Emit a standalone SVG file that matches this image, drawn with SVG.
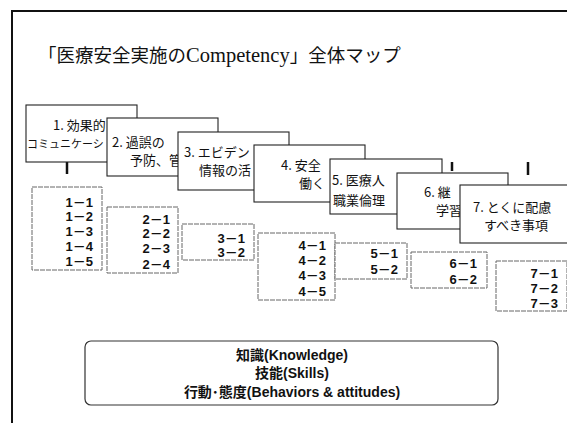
<svg xmlns="http://www.w3.org/2000/svg" width="567" height="423" viewBox="0 0 567 423">
<style>
.frame{stroke:#111;stroke-width:2;fill:none}
.card{fill:#fff;stroke:#222;stroke-width:1.1}
.sub{fill:#fff;stroke:#666;stroke-width:1;stroke-dasharray:5 1}
.ct{font-family:"Noto Sans CJK JP","Liberation Sans",sans-serif;font-size:13px;fill:#111}
.st{font-family:"Liberation Sans","Noto Sans CJK JP",sans-serif;font-size:13px;font-weight:bold;fill:#111;text-anchor:end}
.bt{font-family:"Liberation Sans","Noto Sans CJK JP",sans-serif;font-size:14px;font-weight:bold;fill:#111;text-anchor:middle}
.tick{stroke:#111;stroke-width:2.5}
.title{font-family:"Noto Sans CJK JP",sans-serif;font-size:18.5px;fill:#111}
</style>
<rect width="567" height="423" fill="#fff"/>
<path class="frame" d="M12,423 V11 H567"/>
<text class="title" x="38" y="62">「医療安全実施の<tspan style="font-family:'Liberation Serif',serif;font-size:20.5px">Competency</tspan>」全体マップ</text>
<g id="connectors">
<line class="tick" x1="67" y1="162" x2="67" y2="174"/>
<line class="tick" x1="452" y1="162" x2="452" y2="171"/>
<line class="tick" x1="528" y1="162" x2="528" y2="175"/>
</g>
<g id="sub1"><rect class="sub" x="32" y="187" width="70" height="83"/>
<text class="st" x="93" y="207">1－1</text><text class="st" x="93" y="221">1－2</text><text class="st" x="93" y="236">1－3</text><text class="st" x="93" y="251">1－4</text><text class="st" x="93" y="266">1－5</text></g>
<g id="sub2"><rect class="sub" x="107" y="207" width="71" height="66"/>
<text class="st" x="170" y="224">2－1</text><text class="st" x="170" y="238">2－2</text><text class="st" x="170" y="253">2－3</text><text class="st" x="170" y="269">2－4</text></g>
<g id="sub3"><rect class="sub" x="182" y="224" width="72" height="36"/>
<text class="st" x="245" y="243">3－1</text><text class="st" x="245" y="257">3－2</text></g>
<g id="sub4"><rect class="sub" x="258" y="233" width="77" height="67"/>
<text class="st" x="326" y="250">4－1</text><text class="st" x="326" y="265">4－2</text><text class="st" x="326" y="280">4－3</text><text class="st" x="326" y="296">4－5</text></g>
<g id="sub5"><rect class="sub" x="335" y="243" width="72" height="36"/>
<text class="st" x="398" y="258">5－1</text><text class="st" x="398" y="274">5－2</text></g>
<g id="sub6"><rect class="sub" x="411" y="252" width="76" height="36"/>
<text class="st" x="477" y="268">6－1</text><text class="st" x="477" y="284">6－2</text></g>
<g id="sub7"><rect class="sub" x="496" y="261" width="71" height="50"/>
<text class="st" x="558" y="278">7－1</text><text class="st" x="558" y="293">7－2</text><text class="st" x="558" y="308">7－3</text></g>
<g id="card1"><rect class="card" x="26" y="105" width="111" height="57"/>
<text class="ct" x="53" y="130">1. 効果的</text><text class="ct" x="27" y="148" style="font-size:11px">コミュニケーシ</text></g>
<g id="card2"><rect class="card" x="107" y="118" width="111" height="58"/>
<text class="ct" x="112" y="147">2. 過誤の</text><text class="ct" x="130" y="165">予防、管</text></g>
<g id="card3"><rect class="card" x="178" y="132" width="111" height="58"/>
<text class="ct" x="184" y="157">3. エビデン</text><text class="ct" x="199" y="175">情報の活</text></g>
<g id="card4"><rect class="card" x="254" y="145" width="111" height="57"/>
<text class="ct" x="281" y="170">4. 安全</text><text class="ct" x="299" y="188">働く</text></g>
<g id="card5"><rect class="card" x="330" y="159" width="112" height="55"/>
<text class="ct" x="332" y="185">5. 医療人</text><text class="ct" x="333" y="205">職業倫理</text></g>
<g id="card6"><rect class="card" x="397" y="173" width="111" height="56"/>
<text class="ct" x="424" y="197">6. 継</text><text class="ct" x="436" y="215">学習</text></g>
<g id="card7"><rect class="card" x="460" y="185" width="112" height="58"/>
<text class="ct" x="473" y="212">7. とくに配慮</text><text class="ct" x="484" y="230">すべき事項</text></g>
<g id="base"><rect x="85" y="341" width="413" height="64" rx="6" fill="#fff" stroke="#333" stroke-width="1.2"/>
<text class="bt" x="292" y="360">知識(Knowledge)</text>
<text class="bt" x="292" y="378">技能(Skills)</text>
<text class="bt" x="292" y="397">行動･態度(Behaviors &amp; attitudes)</text></g>
</svg>
